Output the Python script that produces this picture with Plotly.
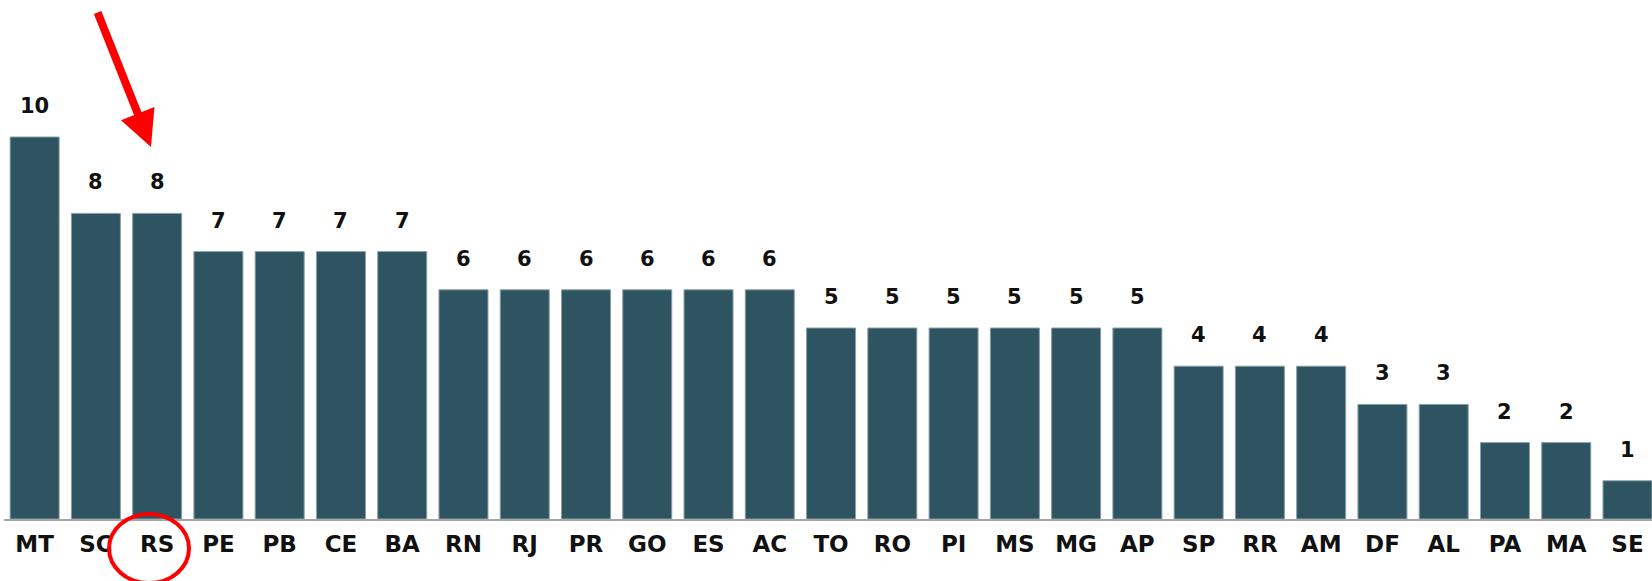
import plotly.graph_objects as go

# Data
states = ["MT", "SC", "RS", "PE", "PB", "CE", "BA", "RN", "RJ", "PR", "GO", "ES", "AC",
          "TO", "RO", "PI", "MS", "MG", "AP", "SP", "RR", "AM", "DF", "AL", "PA", "MA", "SE"]
values = [10, 8, 8, 7, 7, 7, 7, 6, 6, 6, 6, 6, 6, 5, 5, 5, 5, 5, 5, 4, 4, 4, 3, 3, 2, 2, 1]
highlight = "RS"

W, H = 1652, 581
ML, MR, MT_, MB = 4, 0, 0, 62
plot_w = W - ML - MR
plot_h = H - MT_ - MB
y_top = plot_h / 38.2


def px_to_paper(px, py):
    return (px - ML) / plot_w, (H - MB - py) / plot_h


bar_color = "#2e5461"
font_family = "DejaVu Sans, Liberation Sans, Arial, sans-serif"

fig = go.Figure()
fig.add_trace(go.Bar(
    x=states, y=values,
    marker=dict(color=bar_color, line=dict(color="#8aa0a7", width=1)),
    hoverinfo="x+y",
))

annotations = []
for s, v in zip(states, values):
    annotations.append(dict(
        x=s, y=v, xref="x", yref="y", text=str(v), showarrow=False,
        yanchor="middle", yshift=31,
        font=dict(family=font_family, size=21, color="#111111", weight="bold"),
    ))

# red arrow pointing at highlighted bar
tip_x, tip_y = px_to_paper(151, 147)
annotations.append(dict(
    x=tip_x, y=tip_y, xref="paper", yref="paper", text="", showarrow=True,
    ax=97 - 151, ay=11 - 147, axref="pixel", ayref="pixel",
    arrowcolor="#ff0000", arrowwidth=8, arrowhead=2, arrowsize=0.9, standoff=0,
))

ex0, ey0 = px_to_paper(109, 583)
ex1, ey1 = px_to_paper(189, 514)
shapes = [dict(type="circle", xref="paper", yref="paper",
               x0=ex0, x1=ex1, y0=ey0, y1=ey1,
               line=dict(color="#ff0000", width=4), fillcolor="rgba(0,0,0,0)")]

fig.update_layout(
    width=W, height=H,
    margin=dict(l=ML, r=MR, t=MT_, b=MB, pad=0),
    paper_bgcolor="white", plot_bgcolor="white",
    bargap=0.2,
    showlegend=False,
    annotations=annotations,
    shapes=shapes,
    xaxis=dict(
        range=[-0.5, 26.4], showgrid=False, zeroline=False,
        showline=True, linecolor="#a6a6a6", linewidth=2,
        ticks="outside", ticklen=3, tickcolor="rgba(0,0,0,0)",
        tickfont=dict(family=font_family, size=23, color="#111111", weight="bold"),
        fixedrange=True, automargin=False,
    ),
    yaxis=dict(range=[0, y_top], visible=False, fixedrange=True),
)

fig.write_html(
    "out.html",
    config={"displayModeBar": False},
    post_script="document.body.style.margin='0';document.body.style.overflow='hidden';",
)
